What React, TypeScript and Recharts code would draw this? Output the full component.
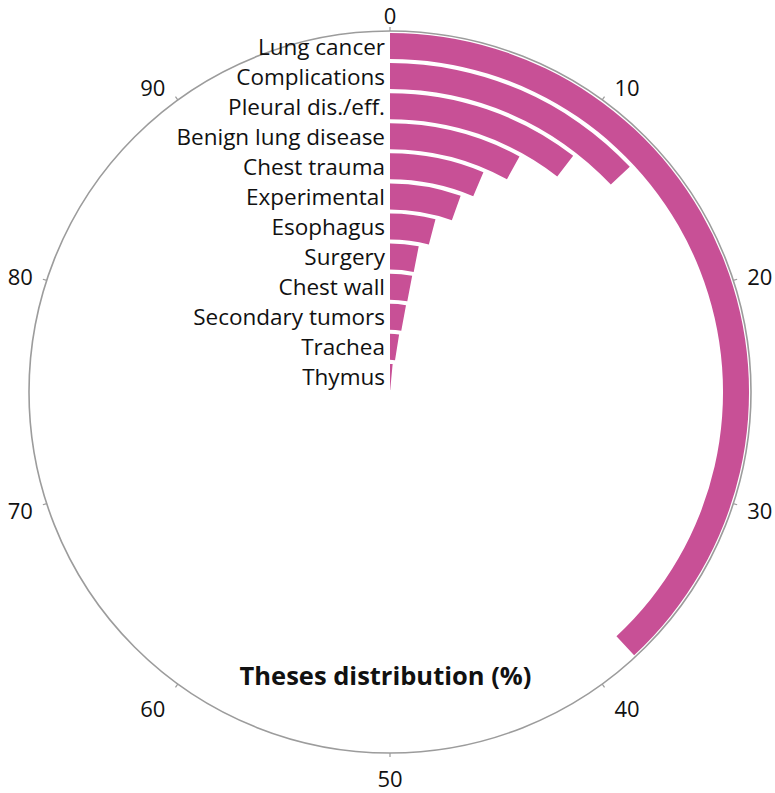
import React from "react";
import { RadialBarChart, RadialBar, PolarAngleAxis, PolarRadiusAxis } from "recharts";

// Theses distribution (%) by topic, outermost ring first
const topics = [
  "Lung cancer",
  "Complications",
  "Pleural dis./eff.",
  "Benign lung disease",
  "Chest trauma",
  "Experimental",
  "Esophagus",
  "Surgery",
  "Chest wall",
  "Secondary tumors",
  "Trachea",
  "Thymus",
];
const shares = [38.1, 13.0, 10.5, 8.0, 6.4, 5.5, 4.1, 3.1, 3.0, 2.9, 2.5, 1.5];
const angleTicks = [0, 10, 20, 30, 40, 50, 60, 70, 80, 90];

const W = 775;
const H = 793;
const CX = 390;
const CY = 392;
const R = 361;

const FONT = "'Open Sans', 'Noto Sans', sans-serif";
const BAR = "#C85096";
const AXIS = "#9c9c9c";
const INK = "#111";

// recharts puts the first category on the innermost ring
const data = topics.map((name, i) => ({ name, value: shares[i] })).reverse();

function AngleTick(props: any) {
  const { x, y, payload } = props;
  const dx = x - CX;
  const dy = y - CY;
  const len = Math.sqrt(dx * dx + dy * dy) || 1;
  const s = dx / len;
  const c = -dy / len;
  const anchor = s > 0.05 ? "start" : s < -0.05 ? "end" : "middle";
  const tx = x + (anchor === "start" ? 10 : anchor === "end" ? -10 : 0);
  const ty = y + (c < -0.5 ? 21 : -13 * c + 1);
  return (
    <text
      x={tx}
      y={ty}
      textAnchor={anchor}
      dominantBaseline="central"
      fontFamily={FONT}
      fontSize={22}
      fill={INK}
    >
      {payload.value}
    </text>
  );
}

function TopicTick(props: any) {
  const { x, y, payload } = props;
  return (
    <text
      x={x - 5}
      y={y}
      textAnchor="end"
      dominantBaseline="central"
      fontFamily={FONT}
      fontSize={22.5}
      fill={INK}
    >
      {payload.value}
    </text>
  );
}

export default function App() {
  return (
    <div style={{ position: "relative", width: W, height: H, background: "#fff" }}>
      <style>{`body{margin:0}`}</style>
      <RadialBarChart
        width={W}
        height={H}
        data={data}
        cx={CX}
        cy={CY}
        innerRadius={0}
        outerRadius={R}
        startAngle={90}
        endAngle={-270}
        barCategoryGap="7%"
        margin={{ top: 0, right: 0, bottom: 0, left: 0 }}
      >
        <PolarAngleAxis
          type="number"
          domain={[0, 100]}
          ticks={angleTicks}
          axisLineType="circle"
          axisLine={{ stroke: AXIS, strokeWidth: 1.6 }}
          tickLine={{ stroke: AXIS, strokeWidth: 1.2 }}
          tickSize={4}
          tick={<AngleTick />}
        />
        <PolarRadiusAxis
          type="category"
          dataKey="name"
          angle={90}
          axisLine={false}
          tickLine={false}
          tick={<TopicTick />}
        />
        <RadialBar dataKey="value" fill={BAR} isAnimationActive={false} />
      </RadialBarChart>
      <div
        style={{
          position: "absolute",
          left: 0,
          width: W - 4,
          top: 658,
          textAlign: "center",
          fontFamily: FONT,
          fontWeight: 700,
          fontSize: 25.5,
          color: INK,
          lineHeight: "34px",
        }}
      >
        Theses distribution (%)
      </div>
    </div>
  );
}
